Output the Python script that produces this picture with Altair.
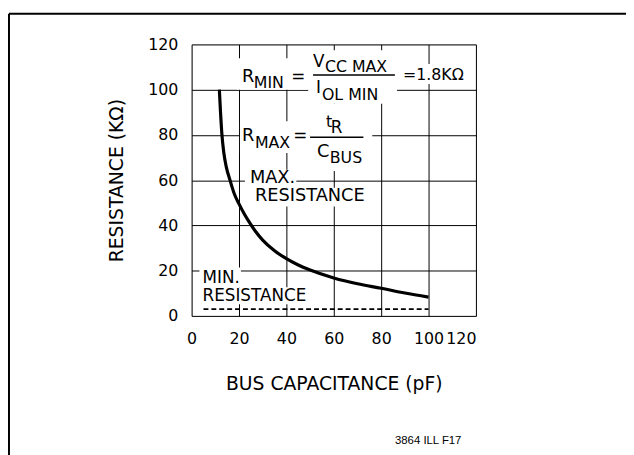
import altair as alt
import pandas as pd

# ---- data ----
bus_capacitance = [11.7, 12.2, 12.8, 13.6, 14.6, 16.2, 18.0, 20.0, 22.0, 24.0, 27.0, 30.0, 35.0, 40.0,
                   45.0, 50.0, 60.0, 70.0, 80.0, 90.0, 100.0]
max_resistance = [100.0, 90.0, 80.0, 72.0, 66.0, 60.0, 54.0, 49.5, 45.5, 42.0, 37.3, 33.5, 28.8, 25.3,
                  22.5, 20.3, 16.8, 14.2, 12.2, 10.1, 8.3]
min_res_x = [5, 100]
min_res_y = [3, 3]
tick_values = [0, 20, 40, 60, 80, 100, 120]

x_title = "BUS CAPACITANCE (pF)"
y_title = "RESISTANCE (KΩ)"
figure_id = "3864 ILL F17"

# annotation texts (left aligned, alphabetic baseline), positions in data units
ann_text = ["R", "MIN", "=", "V", "CC MAX", "I", "OL MIN", "=1.8KΩ",
            "R", "MAX", "=", "t", "R", "C", "BUS",
            "MAX.", "RESISTANCE", "MIN.", "RESISTANCE"]
ann_x = [21.25, 26.25, 42.1, 51.25, 56.25, 52.5, 55.0, 89.2,
         21.25, 26.7, 42.9, 56.7, 58.75, 52.9, 58.3,
         24.6, 26.7, 4.6, 4.6]
ann_y = [103.4, 100.8, 103.4, 110.0, 107.8, 98.6, 95.6, 104.3,
         77.2, 74.2, 77.2, 83.3, 80.7, 70.3, 67.6,
         58.8, 50.6, 14.5, 6.5]
ann_size = [18, 16, 17, 17, 16, 17, 16, 16,
            18, 16, 17, 16, 17, 18, 16,
            18, 18, 17, 17]

# white label backgrounds that interrupt the grid
box_x = [19.2, 49.2, 87.5, 20.4, 49.6, 22.5, 25.4, 3.3, 3.3]
box_x2 = [49.2, 86.7, 116.7, 49.6, 76.25, 44.2, 75.0, 20.8, 53.3]
box_y = [100.0, 93.8, 102.5, 72.0, 64.1, 56.7, 48.4, 12.7, 5.2]
box_y2 = [113.9, 117.4, 111.3, 86.0, 93.8, 64.6, 56.7, 21.4, 12.7]

# fraction bars
bar_x = [51.25, 50.0]
bar_x2 = [85.8, 72.5]
bar_y = [106.5, 79.0]

FONT = "DejaVu Sans"

curve_df = pd.DataFrame({"c": bus_capacitance, "r": max_resistance})
min_df = pd.DataFrame({"c": min_res_x, "r": min_res_y})
ann_df = pd.DataFrame({"t": ann_text, "x": ann_x, "y": ann_y, "s": ann_size})
box_df = pd.DataFrame({"x": box_x, "x2": box_x2, "y": box_y, "y2": box_y2})
bar_df = pd.DataFrame({"x": bar_x, "x2": bar_x2, "y": bar_y})

xs = alt.Scale(domain=[0, 120], nice=False)
ys = alt.Scale(domain=[0, 120], nice=False)

x_axis = alt.Axis(values=tick_values, grid=True, gridColor="black", gridWidth=1, gridOpacity=1,
                  domain=False, ticks=False, labelFont=FONT, labelFontSize=16, labelColor="black",
                  labelPadding=15, labelFlush=False,
                  labelAlign=alt.expr("datum.value == 120 ? 'right' : 'center'"),
                  title=x_title, titleFont=FONT, titleFontSize=19, titleFontWeight="normal",
                  titleColor="black", titlePadding=29)
y_axis = alt.Axis(values=tick_values, grid=True, gridColor="black", gridWidth=1, gridOpacity=1,
                  domain=False, ticks=False, labelFont=FONT, labelFontSize=16, labelColor="black",
                  labelPadding=14, title=y_title, titleFont=FONT, titleFontSize=19,
                  titleFontWeight="normal", titleColor="black", titlePadding=21)

base_axes = alt.Chart(curve_df).mark_line(opacity=0).encode(
    x=alt.X("c:Q", scale=xs, axis=x_axis),
    y=alt.Y("r:Q", scale=ys, axis=y_axis),
)

boxes = alt.Chart(box_df).mark_rect(fill="white").encode(
    x=alt.X("x:Q", scale=xs), x2="x2:Q", y=alt.Y("y:Q", scale=ys), y2="y2:Q")

curve = alt.Chart(curve_df).mark_line(color="black", strokeWidth=3.2, interpolate="monotone").encode(
    x=alt.X("c:Q", scale=xs), y=alt.Y("r:Q", scale=ys))

min_line = alt.Chart(min_df).mark_line(color="black", strokeWidth=1.8, strokeDash=[5, 3]).encode(
    x=alt.X("c:Q", scale=xs), y=alt.Y("r:Q", scale=ys))

bars = alt.Chart(bar_df).mark_rule(color="black", strokeWidth=1.5).encode(
    x=alt.X("x:Q", scale=xs), x2="x2:Q", y=alt.Y("y:Q", scale=ys))

texts = alt.Chart(ann_df).mark_text(align="left", baseline="alphabetic", font=FONT, color="black").encode(
    x=alt.X("x:Q", scale=xs), y=alt.Y("y:Q", scale=ys), text="t:N",
    size=alt.Size("s:Q", scale=None, legend=None))

one = alt.Data(values=[{"a": 1}])
frame_top = alt.Chart(one).mark_rule(color="black", strokeWidth=2).encode(
    x=alt.value(-185), x2=alt.value(460), y=alt.value(-31))
frame_left = alt.Chart(one).mark_rule(color="black", strokeWidth=2).encode(
    x=alt.value(-185), y=alt.value(-31), y2=alt.value(420))
fig_label = alt.Chart(one).mark_text(align="left", baseline="alphabetic", font="Liberation Sans",
                                      fontSize=11.5, color="black").encode(
    x=alt.value(206), y=alt.value(405), text=alt.value(figure_id))

chart = alt.layer(base_axes, boxes, curve, min_line, bars, texts, frame_top, frame_left, fig_label).properties(
    width=288, height=275,
    autosize=alt.AutoSizeParams(type="none"),
    padding={"left": 186, "top": 34, "right": 152, "bottom": 138},
).configure_view(stroke="black", strokeWidth=3).configure(background="white")

chart.save("out.html", embed_options={"renderer": "svg", "actions": False})
